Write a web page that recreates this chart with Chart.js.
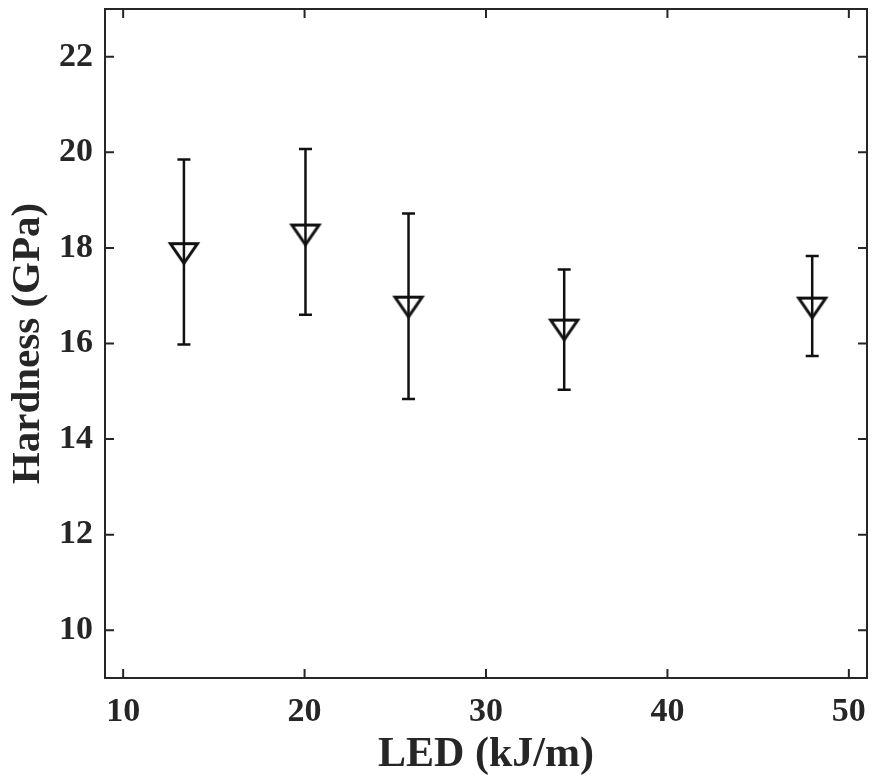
<!DOCTYPE html>
<html>
<head>
<meta charset="utf-8">
<script src="https://cdn.jsdelivr.net/npm/chart.js@4.4.1/dist/chart.umd.min.js"></script>
<style>
  body { margin: 0; background: #fff; }
  #wrap { width: 872px; height: 782px; }
</style>
</head>
<body>
<div id="wrap"><canvas id="hardness" width="872" height="782"></canvas></div>
<script>
// values
const led = [13.35, 20.05, 25.73, 34.31, 47.98];
const hardness = [17.87, 18.26, 16.75, 16.27, 16.73];
const errHigh = [19.85, 20.07, 18.72, 17.55, 17.83];
const errLow = [15.98, 16.60, 14.84, 15.03, 15.74];
const xTicks = [10, 20, 30, 40, 50];
const yTicks = [10, 12, 14, 16, 18, 20, 22];

const ink = "#111";
const axisColor = "#262626";

// downward open triangle, like the matlab 'v' marker
function triangleMarker() {
    const c = document.createElement("canvas");
    c.width = 34;
    c.height = 26;
    const g = c.getContext("2d");
    g.strokeStyle = ink;
    g.lineWidth = 3;
    g.beginPath();
    g.moveTo(3.5, 2.5);
    g.lineTo(30.5, 2.5);
    g.lineTo(17, 22);
    g.closePath();
    g.stroke();
    return c;
}

const errorBars = {
    id: "errorBars",
    beforeDatasetsDraw(chart) {
        const ctx = chart.ctx;
        const xs = chart.scales.x, ys = chart.scales.y;
        ctx.save();
        ctx.strokeStyle = ink;
        ctx.lineWidth = 2.5;
        for (let i = 0; i < led.length; i++) {
            const px = xs.getPixelForValue(led[i]);
            const top = ys.getPixelForValue(errHigh[i]);
            const bot = ys.getPixelForValue(errLow[i]);
            ctx.beginPath();
            ctx.moveTo(px, top); ctx.lineTo(px, bot);
            ctx.moveTo(px - 6.5, top); ctx.lineTo(px + 6.5, top);
            ctx.moveTo(px - 6.5, bot); ctx.lineTo(px + 6.5, bot);
            ctx.stroke();
        }
        ctx.restore();
    }
};

// box with inward ticks on all four sides
const frame = {
    id: "frame",
    afterDraw(chart) {
        const ctx = chart.ctx;
        const a = chart.chartArea;
        const xs = chart.scales.x, ys = chart.scales.y;
        const len = 9;
        ctx.save();
        ctx.strokeStyle = axisColor;
        ctx.lineWidth = 2;
        ctx.strokeRect(a.left, a.top, a.right - a.left, a.bottom - a.top);
        ctx.beginPath();
        xs.ticks.forEach(t => {
            const px = xs.getPixelForValue(t.value);
            ctx.moveTo(px, a.bottom); ctx.lineTo(px, a.bottom - len);
            ctx.moveTo(px, a.top); ctx.lineTo(px, a.top + len);
        });
        ys.ticks.forEach(t => {
            const py = ys.getPixelForValue(t.value);
            ctx.moveTo(a.left, py); ctx.lineTo(a.left + len, py);
            ctx.moveTo(a.right, py); ctx.lineTo(a.right - len, py);
        });
        ctx.stroke();
        ctx.restore();
    }
};

const serif = "'Liberation Serif', 'Times New Roman', serif";
const tickFont = { family: serif, size: 34, weight: "bold" };

new Chart("hardness", {
    type: "scatter",
    data: {
        datasets: [{
            data: led.map((x, i) => ({ x: x, y: hardness[i] })),
            pointStyle: triangleMarker(),
            showLine: false
        }]
    },
    options: {
        responsive: false,
        animation: false,
        layout: { padding: { top: 9, right: 5, left: 0, bottom: 0 } },
        plugins: { legend: { display: false }, tooltip: { enabled: false } },
        scales: {
            x: {
                type: "linear",
                min: 9,
                max: 51,
                afterBuildTicks: s => { s.ticks = xTicks.map(v => ({ value: v })); },
                afterFit: s => { s.height = 104; s.paddingLeft = 0; s.paddingRight = 0; },
                grid: { display: false, drawTicks: false },
                border: { display: false },
                ticks: { color: axisColor, font: tickFont, padding: 14, maxRotation: 0 },
                title: { display: true, text: "LED (kJ/m)", color: axisColor,
                         font: { family: serif, size: 42, weight: "bold" }, padding: { top: 0, bottom: 2 } }
            },
            y: {
                type: "linear",
                min: 9,
                max: 23,
                afterBuildTicks: s => { s.ticks = yTicks.map(v => ({ value: v })); },
                afterFit: s => { s.width = 105; s.paddingTop = 0; s.paddingBottom = 0; },
                grid: { display: false, drawTicks: false },
                border: { display: false },
                ticks: { color: axisColor, font: tickFont, padding: 12 },
                title: { display: true, text: "Hardness (GPa)", color: axisColor,
                         font: { family: serif, size: 41, weight: "bold" }, padding: { top: 4, bottom: 0 } }
            }
        }
    },
    plugins: [errorBars, frame]
});
</script>
</body>
</html>
